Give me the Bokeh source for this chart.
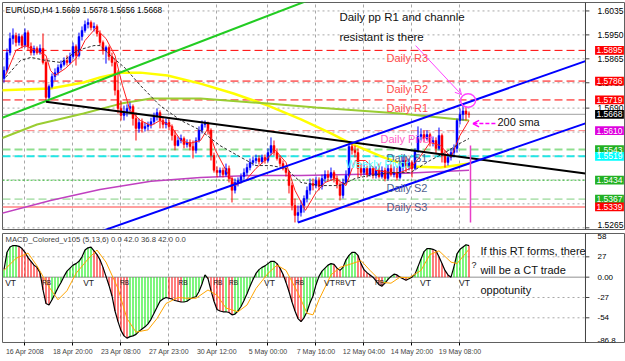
import math
from bokeh.plotting import figure
from bokeh.layouts import column
from bokeh.models import Range1d, FixedTicker, Grid, ColumnDataSource
from bokeh.core.properties import value
from bokeh.embed import file_html
from bokeh.resources import INLINE

FONT = "Liberation Sans"

# ---------------- price data (EURUSD H4) ----------------
opens = [1.5795, 1.5824, 1.5887, 1.5937, 1.5948, 1.5923, 1.5944, 1.5912, 1.5958, 1.5909,
         1.5887, 1.5902, 1.5887, 1.5902, 1.5852, 1.5728, 1.5767, 1.5802, 1.5816, 1.5834,
         1.5845, 1.5859, 1.5852, 1.5873, 1.5909, 1.5877, 1.5944, 1.5966, 1.5987, 1.5994,
         1.5976, 1.5980, 1.5955, 1.5923, 1.5895, 1.5905, 1.5873, 1.5852, 1.5753, 1.5689,
         1.5664, 1.5674, 1.5689, 1.5696, 1.5653, 1.5618, 1.5639, 1.5618, 1.5625, 1.5632,
         1.5642, 1.5660, 1.5674, 1.5646, 1.5632, 1.5639, 1.5625, 1.5593, 1.5557, 1.5575,
         1.5582, 1.5561, 1.5568, 1.5554, 1.5540, 1.5575, 1.5611, 1.5632, 1.5635, 1.5611,
         1.5522, 1.5469, 1.5461, 1.5469, 1.5454, 1.5476, 1.5440, 1.5398, 1.5426, 1.5433,
         1.5447, 1.5461, 1.5479, 1.5497, 1.5504, 1.5511, 1.5500, 1.5515, 1.5504, 1.5532,
         1.5557, 1.5532, 1.5511, 1.5493, 1.5476, 1.5461, 1.5415, 1.5344, 1.5309, 1.5319,
         1.5344, 1.5369, 1.5398, 1.5422, 1.5415, 1.5433, 1.5412, 1.5440, 1.5454, 1.5444,
         1.5461, 1.5440, 1.5419, 1.5380, 1.5426, 1.5451, 1.5554, 1.5540, 1.5532, 1.5476,
         1.5461, 1.5476, 1.5454, 1.5476, 1.5451, 1.5469, 1.5447, 1.5469, 1.5440, 1.5476,
         1.5454, 1.5461, 1.5444, 1.5483, 1.5504, 1.5486, 1.5497, 1.5476, 1.5540, 1.5589,
         1.5596, 1.5582, 1.5596, 1.5568, 1.5575, 1.5547, 1.5593, 1.5522, 1.5497, 1.5515,
         1.5532, 1.5547, 1.5646, 1.5667, 1.5680, 1.5669]
highs = [1.5838, 1.5902, 1.5958, 1.5973, 1.5958, 1.5955, 1.5951, 1.5973, 1.5966, 1.5923,
         1.5912, 1.5909, 1.5916, 1.5955, 1.5866, 1.5774, 1.5813, 1.5831, 1.5845, 1.5859,
         1.5870, 1.5877, 1.5887, 1.5923, 1.5916, 1.5958, 1.5980, 1.6001, 1.6008, 1.6001,
         1.5994, 1.5987, 1.5966, 1.5930, 1.5912, 1.5912, 1.5887, 1.5866, 1.5824, 1.5717,
         1.5699, 1.5703, 1.5710, 1.5703, 1.5674, 1.5653, 1.5653, 1.5639, 1.5642, 1.5656,
         1.5674, 1.5689, 1.5682, 1.5660, 1.5653, 1.5650, 1.5632, 1.5611, 1.5589, 1.5596,
         1.5589, 1.5579, 1.5579, 1.5575, 1.5586, 1.5625, 1.5646, 1.5646, 1.5642, 1.5618,
         1.5532, 1.5483, 1.5479, 1.5479, 1.5493, 1.5486, 1.5447, 1.5440, 1.5444, 1.5458,
         1.5476, 1.5493, 1.5511, 1.5518, 1.5525, 1.5522, 1.5525, 1.5525, 1.5547, 1.5586,
         1.5575, 1.5547, 1.5522, 1.5504, 1.5486, 1.5469, 1.5426, 1.5369, 1.5344, 1.5362,
         1.5380, 1.5412, 1.5440, 1.5440, 1.5447, 1.5444, 1.5454, 1.5469, 1.5469, 1.5479,
         1.5469, 1.5451, 1.5426, 1.5440, 1.5469, 1.5565, 1.5565, 1.5557, 1.5547, 1.5493,
         1.5493, 1.5486, 1.5493, 1.5483, 1.5483, 1.5493, 1.5483, 1.5479, 1.5490, 1.5490,
         1.5483, 1.5483, 1.5504, 1.5518, 1.5518, 1.5511, 1.5504, 1.5547, 1.5625, 1.5618,
         1.5611, 1.5611, 1.5603, 1.5589, 1.5586, 1.5621, 1.5600, 1.5540, 1.5529, 1.5547,
         1.5561, 1.5653, 1.5689, 1.5706, 1.5696, 1.5678]
lows = [1.5781, 1.5816, 1.5877, 1.5916, 1.5909, 1.5912, 1.5902, 1.5905, 1.5895, 1.5877,
        1.5877, 1.5880, 1.5880, 1.5845, 1.5713, 1.5721, 1.5760, 1.5788, 1.5806, 1.5824,
        1.5838, 1.5841, 1.5845, 1.5866, 1.5841, 1.5870, 1.5930, 1.5958, 1.5973, 1.5966,
        1.5962, 1.5944, 1.5912, 1.5880, 1.5848, 1.5859, 1.5838, 1.5735, 1.5671, 1.5646,
        1.5646, 1.5660, 1.5674, 1.5628, 1.5575, 1.5603, 1.5603, 1.5607, 1.5611, 1.5618,
        1.5632, 1.5646, 1.5618, 1.5618, 1.5618, 1.5611, 1.5575, 1.5540, 1.5554, 1.5565,
        1.5547, 1.5550, 1.5540, 1.5511, 1.5529, 1.5568, 1.5600, 1.5621, 1.5596, 1.5504,
        1.5461, 1.5444, 1.5447, 1.5444, 1.5447, 1.5426, 1.5355, 1.5387, 1.5412, 1.5422,
        1.5437, 1.5451, 1.5469, 1.5486, 1.5493, 1.5490, 1.5493, 1.5493, 1.5497, 1.5522,
        1.5522, 1.5504, 1.5483, 1.5469, 1.5447, 1.5387, 1.5327, 1.5284, 1.5284, 1.5305,
        1.5319, 1.5355, 1.5383, 1.5398, 1.5405, 1.5398, 1.5401, 1.5426, 1.5433, 1.5433,
        1.5426, 1.5405, 1.5362, 1.5369, 1.5419, 1.5444, 1.5525, 1.5515, 1.5444, 1.5447,
        1.5451, 1.5444, 1.5447, 1.5440, 1.5440, 1.5440, 1.5440, 1.5430, 1.5433, 1.5447,
        1.5444, 1.5433, 1.5437, 1.5461, 1.5461, 1.5469, 1.5444, 1.5469, 1.5532, 1.5575,
        1.5568, 1.5575, 1.5554, 1.5554, 1.5529, 1.5540, 1.5497, 1.5479, 1.5486, 1.5504,
        1.5515, 1.5532, 1.5632, 1.5646, 1.5646, 1.5656]
closes = [1.5824, 1.5887, 1.5937, 1.5948, 1.5923, 1.5944, 1.5912, 1.5958, 1.5909, 1.5887,
          1.5902, 1.5887, 1.5902, 1.5852, 1.5728, 1.5767, 1.5802, 1.5816, 1.5834, 1.5845,
          1.5859, 1.5852, 1.5873, 1.5909, 1.5877, 1.5944, 1.5966, 1.5987, 1.5994, 1.5976,
          1.5980, 1.5955, 1.5923, 1.5895, 1.5905, 1.5873, 1.5852, 1.5753, 1.5689, 1.5664,
          1.5674, 1.5689, 1.5696, 1.5653, 1.5618, 1.5639, 1.5618, 1.5625, 1.5632, 1.5642,
          1.5660, 1.5674, 1.5646, 1.5632, 1.5639, 1.5625, 1.5593, 1.5557, 1.5575, 1.5582,
          1.5561, 1.5568, 1.5554, 1.5540, 1.5575, 1.5611, 1.5632, 1.5635, 1.5611, 1.5522,
          1.5469, 1.5461, 1.5469, 1.5454, 1.5476, 1.5440, 1.5398, 1.5426, 1.5433, 1.5447,
          1.5461, 1.5479, 1.5497, 1.5504, 1.5511, 1.5500, 1.5515, 1.5504, 1.5532, 1.5557,
          1.5532, 1.5511, 1.5493, 1.5476, 1.5461, 1.5415, 1.5344, 1.5309, 1.5319, 1.5344,
          1.5369, 1.5398, 1.5422, 1.5415, 1.5433, 1.5412, 1.5440, 1.5454, 1.5444, 1.5461,
          1.5440, 1.5419, 1.5380, 1.5426, 1.5451, 1.5554, 1.5540, 1.5532, 1.5476, 1.5461,
          1.5476, 1.5454, 1.5476, 1.5451, 1.5469, 1.5447, 1.5469, 1.5440, 1.5476, 1.5454,
          1.5461, 1.5444, 1.5483, 1.5504, 1.5486, 1.5497, 1.5476, 1.5540, 1.5589, 1.5596,
          1.5582, 1.5596, 1.5568, 1.5575, 1.5547, 1.5593, 1.5522, 1.5497, 1.5515, 1.5532,
          1.5547, 1.5646, 1.5667, 1.5680, 1.5669, 1.5668]

# moving averages (vertices, x = bar index)
ma_yellow_x = [-1, 15.5, 26.5, 32, 39, 45.5, 54.5, 65.5, 76.5, 88, 99, 109, 115.5, 126.5, 135.5, 145.5, 155]
ma_yellow_y = [1.5753, 1.5760, 1.5781, 1.5799, 1.5816, 1.5816, 1.5806, 1.5777, 1.5742, 1.5699,
               1.5650, 1.5600, 1.5565, 1.5515, 1.5483, 1.5479, 1.5493]
sma200_x = [-1, 11, 26.5, 39, 49, 65.5, 88, 104, 132, 155]
sma200_y = [1.5582, 1.5632, 1.5671, 1.5706, 1.5724, 1.5724, 1.5706, 1.5692, 1.5671, 1.5646]
ma_violet_x = [-1, 15.5, 32, 49, 65.5, 82, 99, 132, 155]
ma_violet_y = [1.5316, 1.5362, 1.5401, 1.5430, 1.5444, 1.5451, 1.5451, 1.5458, 1.5469]
ma_fast_x = [0.5, 4, 7, 10.5, 14, 15.5, 17, 20.5, 24, 27, 30.5, 34, 37, 39.5, 42, 45.5, 49, 52,
             55.5, 59, 62, 65.5, 68, 70.5, 74, 77, 80.5, 84, 87, 90.5, 94, 97, 100.5, 104, 107,
             110.5, 114, 117, 120.5, 124, 129, 132, 135.5, 139, 142, 145.5, 149, 152, 155]
ma_fast_y = [1.5806, 1.5895, 1.5912, 1.5895, 1.5877, 1.5824, 1.5806, 1.5831, 1.5866, 1.5930,
             1.5973, 1.5937, 1.5877, 1.5770, 1.5682, 1.5646, 1.5628, 1.5646, 1.5628, 1.5575,
             1.5565, 1.5575, 1.5618, 1.5540, 1.5469, 1.5415, 1.5433, 1.5476, 1.5504, 1.5540,
             1.5497, 1.5398, 1.5327, 1.5390, 1.5426, 1.5440, 1.5415, 1.5504, 1.5504, 1.5469,
             1.5461, 1.5461, 1.5476, 1.5522, 1.5568, 1.5557, 1.5515, 1.5593, 1.5646]
ma_slow_x = [0.5, 5.5, 9, 14, 19, 24.5, 30, 32, 35.5, 40.5, 45.5, 52, 59, 65.5, 72, 79, 84, 89,
             94, 99, 105.5, 112, 117, 122, 129, 135.5, 142, 147, 152, 155]
ma_slow_y = [1.5799, 1.5859, 1.5870, 1.5859, 1.5852, 1.5895, 1.5912, 1.5912, 1.5877, 1.5831,
             1.5770, 1.5699, 1.5646, 1.5611, 1.5557, 1.5515, 1.5486, 1.5486, 1.5476, 1.5426,
             1.5415, 1.5415, 1.5440, 1.5451, 1.5461, 1.5461, 1.5504, 1.5532, 1.5565, 1.5582]

# drawn trend lines: start bar, start price, end bar, end price
trend_x0 = [-2, 14, 33, 98]
trend_y0 = [1.5650, 1.5713, 1.5255, 1.5284]
trend_x1 = [102, 193.8, 193.8, 193.8]
trend_y1 = [1.6075, 1.5458, 1.5857, 1.5636]
trend_colors = ["#22cc22", "#000000", "#0000ff", "#0000ff"]

# pivot levels
level_prices = [1.5895, 1.5786, 1.5719, 1.5610, 1.5543, 1.5519, 1.5434, 1.5367, 1.5339]
level_line_colors = ["#ff0000", "#ff0000", "#ff0000", "#ff7f7f", "#8fdf8f", "#22e5e5",
                     "#33bb33", "#7fcf7f", "#ff9f9f"]
level_dashes = ["8 4", "8 4", "8 4", "8 4", "8 4", "8 4", "2 2", "8 4", "solid"]
level_widths = [1, 1, 1, 1, 2, 2, 1, 1, 2]
level_names = ["Daily R3", "Daily R2", "Daily R1", "Daily Pivot", "Daily S1",
               "Weekly Pivot", "Daily S2", "Daily S3"]
level_name_x = [127.5, 127.5, 127.5, 125.5, 127.5, 113.8, 127.5, 127.5]
level_name_colors = ["#ff4d4d", "#ff4d4d", "#ff4d4d", "#ff5fc8", "#4f5f8f",
                     "#55ffff", "#4f5f8f", "#4f5f8f"]
current_price = 1.5668
box_prices = [1.5895, 1.5786, 1.5719, 1.5668, 1.5610, 1.5543, 1.5519, 1.5434, 1.5367, 1.5339]
box_colors = ["#ff0000", "#ff0000", "#ff0000", "#000000", "#dd00dd", "#22b022", "#00ffff",
              "#22b022", "#22b022", "#ff0000"]

price_ticks = [1.6035, 1.5950, 1.5865, 1.5780, 1.5690, 1.5265]
price_tick_labels = ["1.6035", "1.5950", "1.5865", "1.5780", "1.5690", "1.5265"]
price_grid = [1.6035, 1.5950, 1.5865, 1.5780, 1.5690, 1.5605, 1.5520, 1.5435, 1.5350, 1.5265]

time_ticks = [7, 23, 39, 55, 71, 88, 104, 120, 136, 152]
time_labels = ["16 Apr 2008", "18 Apr 20:00", "23 Apr 08:00", "27 Apr 23:00", "30 Apr 12:00",
               "5 May 00:00", "7 May 16:00", "12 May 04:00", "14 May 20:00", "19 May 08:00"]

# ---------------- MACD (5,13,6) ----------------
macd_vals = [10, 33, 40, 42, 42, 41, 38, 33, 26, 21,
             16, 13, 6, -17, -35, -37, -30, -22, -14, -7,
             1, 8, 12, 16, 18, 21, 27, 36, 39, 40,
             35, 30, 23, 13, 1, -11, -25, -45, -59, -71,
             -78, -81, -79, -78, -76, -72, -69, -66, -62, -56,
             -48, -40, -32, -29, -27, -28, -29, -31, -32, -33,
             -33, -32, -29, -27, -26, -19, -9, 3, -2, -18,
             -32, -43, -45, -46, -46, -47, -50, -49, -45, -39,
             -31, -22, -12, -3, 5, 10, 13, 15, 18, 21,
             21, 18, 12, 4, -7, -19, -33, -45, -55, -59,
             -54, -46, -34, -25, -10, 1, 8, 12, 16, 18,
             17, 12, 9, 13, 23, 29, 33, 33, 29, 18,
             10, 6, 3, 0, -5, -10, -12, -8, -3, 1,
             4, 3, 0, -2, -4, -2, 0, 4, 14, 24,
             34, 38, 38, 37, 35, 27, 18, 9, 3, 0,
             14, 31, 37, 40, 43, 42]
signal_x = [0, 4, 8, 11, 15, 18, 21, 24, 28, 31, 34, 38, 41, 44, 48, 51, 54, 58, 61, 64,
            68, 71, 74, 78, 81, 84, 88, 91, 94, 98, 101, 103, 105, 109, 112, 116, 119, 122,
            126, 129, 132, 135, 139, 142, 145, 149, 151, 155]
signal_vals = [9, 25, 32, 15, -13, -30, -18, 5, 24, 36, 20, -15, -55, -73, -70, -55, -35,
               -27, -28, -28, -17, -24, -41, -46, -37, -15, 5, 16, 9, -21, -48, -50, -30,
               3, 13, 18, 22, 9, -7, -8, 0, -1, 9, 30, 35, 20, 18, 37]
macd_ticks = [58, 27, 0, -27, -54, -86.8]
macd_tick_labels = ["58", "27", "0.00", "-27", "-54", "-86.8"]
macd_grid = [27, -27, -54]
vt_x = [2.2, 28.2, 88.5, 108.5, 115.5, 140.5, 153.5]
rb_x = [14.2, 40.2, 59.7, 71.3, 76.5, 98.5, 112, 125.2]

bars = list(range(len(closes)))
AXIS_X = 193.83          # price-scale border (bar units)
X_END = 207.17           # right edge of the canvas (bar units)
LABEL_X = AXIS_X + 4.0
Y0, Y1 = 1.5259, 1.6065
M0, M1 = -86.8, 58
PX_X = 623 / (X_END + 0.5)
PX_Y = 227 / (Y1 - Y0)


def arrow_head(xs, ys, xe, ye, size=7.0, spread=28.0):
    ang = math.atan2((ye - ys) * PX_Y, (xe - xs) * PX_X)
    hx, hy = [], []
    for s in (1, -1):
        a = ang + math.pi + s * math.radians(spread)
        hx.append(xe + size * math.cos(a) / PX_X)
        hy.append(ye + size * math.sin(a) / PX_Y)
    return hx, hy


def txt(fig, xs, ys, texts, size, color="#111111", align="left", baseline="middle", **kw):
    fig.text(x=xs, y=ys, text=texts, text_font=value(FONT), text_font_size=value(size),
             text_color=color, text_align=align, text_baseline=baseline, **kw)


# ================= price panel =================
price = figure(width=625, height=231, output_backend="svg", toolbar_location=None,
               x_range=Range1d(-0.5, X_END), y_range=Range1d(Y0, Y1),
               x_axis_location=None, y_axis_location=None,
               min_border_left=2, min_border_right=0, min_border_top=2, min_border_bottom=2,
               background_fill_color="white", border_fill_color="white",
               outline_line_color="#606060")
price.grid.visible = False
price.add_layout(Grid(dimension=0, ticker=FixedTicker(ticks=time_ticks),
                      grid_line_color="#a8a8a8", grid_line_dash="3 3", level="underlay"))
price.segment(x0=[-0.5] * len(price_grid), y0=price_grid, x1=[AXIS_X] * len(price_grid),
              y1=price_grid, line_color="#a8a8a8", line_dash="2 3", line_width=1)
for lv, col, dash, w in zip(level_prices, level_line_colors, level_dashes, level_widths):
    price.segment(x0=[-0.5], y0=[lv], x1=[AXIS_X], y1=[lv], line_color=col,
                  line_width=w, line_dash=dash)
price.segment(x0=[-0.5], y0=[current_price], x1=[AXIS_X], y1=[current_price],
              line_color="#a0a0a0", line_width=1)

price.line(ma_yellow_x, ma_yellow_y, line_color="#ffff00", line_width=2.5)
price.line(sma200_x, sma200_y, line_color="#9acd32", line_width=2)
price.line(ma_violet_x, ma_violet_y, line_color="#c040c0", line_width=1.5)

bull = [c >= o for o, c in zip(opens, closes)]
cols = ["#0000ff" if b else "#ff0000" for b in bull]
src = ColumnDataSource(dict(x=bars, h=highs, l=lows,
                            top=[max(o, c) for o, c in zip(opens, closes)],
                            bot=[min(o, c) for o, c in zip(opens, closes)], col=cols))
price.segment(x0="x", y0="l", x1="x", y1="h", line_color="col", line_width=1, source=src)
price.vbar(x="x", width=0.67, top="top", bottom="bot", fill_color="col",
           line_color="col", line_width=0.5, source=src)

price.line(ma_fast_x, ma_fast_y, line_color="#ff2020", line_width=1)
price.line(ma_slow_x, ma_slow_y, line_color="#303030", line_width=1, line_dash="3 2")

price.segment(x0=trend_x0, y0=trend_y0, x1=trend_x1, y1=trend_y1,
              line_color=trend_colors, line_width=2)

# hand-drawn annotations
price.segment(x0=[155.5], y0=[1.5557], x1=[155.5], y1=[1.5284], line_color="#e83ec8", line_width=1.5)
price.ellipse(x=[154.7], y=[1.5717], width=5, height=0.0048, fill_alpha=0,
              line_color="#ff44ff", line_width=1.5)
arrows = [(137.2, 1.5912, 152.5, 1.5738, "#ff44ff", 1, "solid"),
          (163.8, 1.5635, 156.3, 1.5635, "#ff00ff", 1.5, "4 2")]
for xs, ys, xe, ye, col, w, dash in arrows:
    price.segment(x0=[xs], y0=[ys], x1=[xe], y1=[ye], line_color=col, line_width=w, line_dash=dash)
    hx, hy = arrow_head(xs, ys, xe, ye)
    price.segment(x0=[xe, xe], y0=[ye, ye], x1=hx, y1=hy, line_color=col, line_width=w)

# price scale
price.segment(x0=[AXIS_X], y0=[Y0], x1=[AXIS_X], y1=[Y1], line_color="#404040", line_width=1)
price.segment(x0=[AXIS_X] * len(price_ticks), y0=price_ticks, x1=[AXIS_X + 1.3] * len(price_ticks),
              y1=price_ticks, line_color="#404040", line_width=1)
txt(price, [LABEL_X] * (len(price_ticks) - 1), price_ticks[:-1], price_tick_labels[:-1], "8.5px", "#000000")
txt(price, [LABEL_X], [price_ticks[-1]], [price_tick_labels[-1]], "8.5px", "#000000", baseline="bottom")
price.rect(x=[AXIS_X + 8.0] * len(box_prices), y=box_prices, width=9.6, height=0.0031,
           fill_color=box_colors, line_color=None)
txt(price, [AXIS_X + 8.0] * len(box_prices), box_prices, ["%.4f" % b for b in box_prices],
    "8.5px", "#ffffff", align="center")

# texts
txt(price, [0.5], [1.6037], ["EURUSD,H4  1.5669 1.5678 1.5656 1.5668"], "8.2px", "#000000")
txt(price, [111.8, 111.8], [1.6012, 1.5941], ["Daily pp R1 and channle", "resistant is there"], "11.5px")
txt(price, [164.5], [1.5642], ["200 sma"], "11px")
txt(price, level_name_x, level_prices[:len(level_names)], level_names, "11px",
    level_name_colors, baseline="top", y_offset=2)

# ================= MACD panel =================
macd_fig = figure(width=625, height=130, output_backend="svg", toolbar_location=None,
                  x_range=Range1d(-0.5, X_END), y_range=Range1d(M0, M1),
                  x_axis_location="below", y_axis_location=None,
                  min_border_left=2, min_border_right=0, min_border_top=2, min_border_bottom=19,
                  background_fill_color="white", border_fill_color="white",
                  outline_line_color="#606060")
macd_fig.grid.visible = False
macd_fig.add_layout(Grid(dimension=0, ticker=FixedTicker(ticks=time_ticks),
                         grid_line_color="#a8a8a8", grid_line_dash="3 3", level="underlay"))
macd_fig.segment(x0=[-0.5] * len(macd_grid), y0=macd_grid, x1=[AXIS_X] * len(macd_grid),
                 y1=macd_grid, line_color="#a8a8a8", line_dash="2 3", line_width=1)
macd_fig.segment(x0=[-0.5], y0=[0], x1=[AXIS_X], y1=[0], line_color="#909090", line_width=1)

mx = macd_fig.xaxis[0]
mx.ticker = FixedTicker(ticks=time_ticks)
mx.major_label_overrides = {t: s for t, s in zip(time_ticks, time_labels)}
mx.major_label_text_font = FONT
mx.major_label_text_font_size = "7px"
mx.major_label_standoff = 2
mx.major_tick_out = 3
mx.major_tick_in = 0
mx.minor_tick_line_color = None
mx.axis_line_color = None

hist_cols = ["#00ee00"] + ["#00ee00" if macd_vals[i] >= macd_vals[i - 1] else "#ff0000"
                           for i in range(1, len(macd_vals))]
macd_fig.vbar(x=bars, width=0.34, top=macd_vals, bottom=0, fill_color=hist_cols,
              line_color=None)
macd_fig.line(bars, macd_vals, line_color="#000000", line_width=1.2)
macd_fig.line(signal_x, signal_vals, line_color="#ffa500", line_width=1)

# MACD scale
macd_fig.segment(x0=[AXIS_X], y0=[M0], x1=[AXIS_X], y1=[M1], line_color="#404040", line_width=1)
macd_fig.segment(x0=[AXIS_X] * len(macd_ticks), y0=macd_ticks, x1=[AXIS_X + 1.3] * len(macd_ticks),
                 y1=macd_ticks, line_color="#404040", line_width=1)
txt(macd_fig, [LABEL_X], [macd_ticks[0]], [macd_tick_labels[0]], "8px", "#000000", baseline="top")
txt(macd_fig, [LABEL_X] * 4, macd_ticks[1:5], macd_tick_labels[1:5], "8px", "#000000")
txt(macd_fig, [LABEL_X], [macd_ticks[5]], [macd_tick_labels[5]], "8px", "#000000", baseline="bottom")

txt(macd_fig, [0.5], [50], ["MACD_Colored_v105 (5,13,6) 0.0 42.0 36.8 42.0 0.0"], "7.7px", "#404040")
txt(macd_fig, vt_x, [-8] * len(vt_x), ["VT"] * len(vt_x), "8.5px", "#202020", align="center")
txt(macd_fig, rb_x, [-7] * len(rb_x), ["RB"] * len(rb_x), "6.5px", "#202020", align="center")
txt(macd_fig, [158.8] * 3, [35.4, 8.9, -17.7],
    ["If this RT forms, there", "will be a CT trade", "oppotunity"], "11px")
txt(macd_fig, [155.8], [15.5], ["?"], "9px", "#202020")

layout = column(price, macd_fig, spacing=0)
open("out.html", "w").write(file_html(layout, INLINE))
